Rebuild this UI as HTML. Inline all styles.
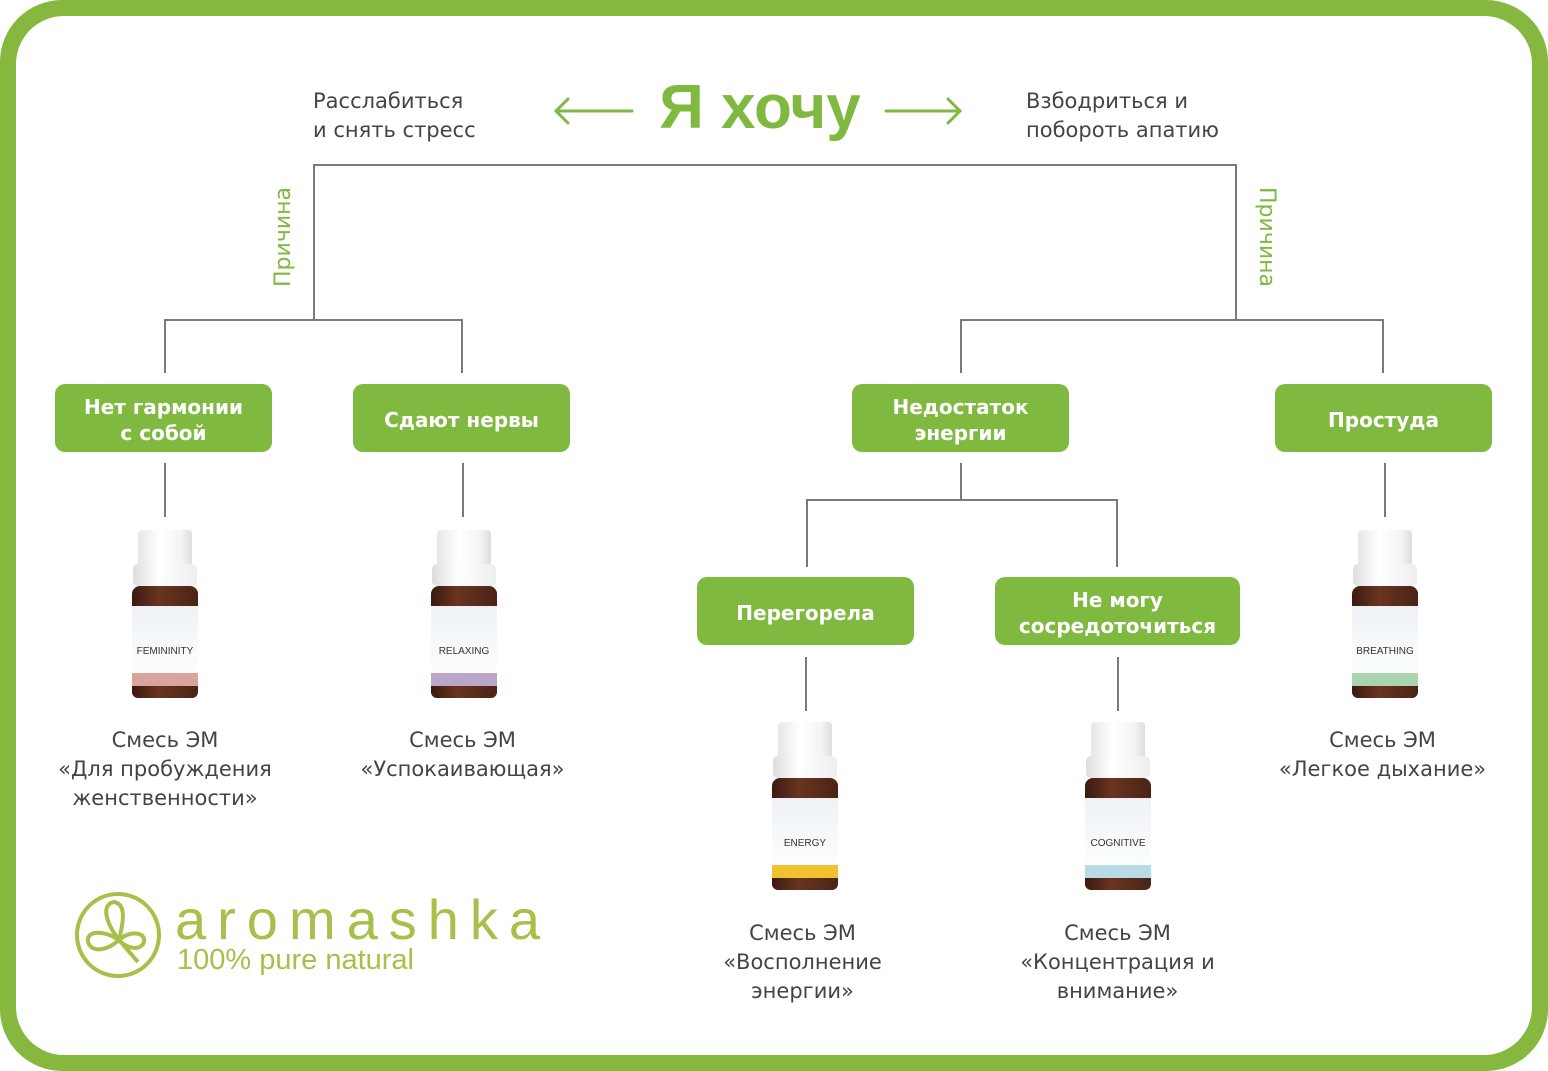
<!DOCTYPE html>
<html><head><meta charset="utf-8"><style>
*{margin:0;padding:0;box-sizing:border-box}
body{width:1548px;height:1071px;background:#fff;position:relative;overflow:hidden;font-family:"DejaVu Sans","Liberation Sans",sans-serif}
.frame{position:absolute;left:0;top:0;width:1548px;height:1071px;border-radius:62px;background:#86b73f}
.inner{position:absolute;left:16px;top:16px;width:1516px;height:1039px;border-radius:48px;background:#fff}
.l{position:absolute;background:#7a7a7a}
.box{position:absolute;background:#80b940;color:#fff;border-radius:10px;font-weight:bold;font-size:20px;line-height:26px;display:flex;align-items:center;justify-content:center;text-align:center;padding-top:3px}
.t{position:absolute;color:#444;font-size:21px;line-height:29px;text-align:center}
.b{position:absolute;width:70px;height:190px}
.cap{position:absolute;left:8px;top:0;width:54px;height:48px;background:linear-gradient(90deg,#e6e6e6,#fff 40%,#f4f4f4 80%,#ddd);border-radius:4px 4px 0 0}
.ring{position:absolute;left:3px;top:34px;width:64px;height:22px;background:linear-gradient(90deg,#ddd,#fff 40%,#eee);border-radius:5px}
.body{position:absolute;left:2px;top:56px;width:66px;height:112px;background:linear-gradient(90deg,#3a1a10,#6a3420 40%,#4a2416);border-radius:8px 8px 6px 6px}
.lab{position:absolute;left:2px;top:76px;width:66px;height:80px;background:linear-gradient(#eef2f6,#fff);font-family:"Liberation Sans",sans-serif;font-size:10px;color:#333;text-align:center;padding-top:40px;line-height:11px}
.band{position:absolute;left:0;bottom:0;width:100%;height:13px}
</style></head><body>
<div class="frame"></div><div class="inner"></div>

<div class="t" style="left:313px;top:87px;text-align:left">Расслабиться<br>и снять стресс</div>
<div class="t" style="left:1026px;top:87px;text-align:left">Взбодриться и<br>побороть апатию</div>
<div style="position:absolute;left:650px;top:68px;width:220px;text-align:center;font-family:'Liberation Sans',sans-serif;font-weight:bold;font-size:62px;color:#80b940;line-height:80px">Я хочу</div>
<svg style="position:absolute;left:550px;top:95px" width="420" height="32">
<g stroke="#80b940" stroke-width="3" fill="none" stroke-linecap="round">
<path d="M6 16H82M18 4L6 16L18 28"/><path d="M336 16H410M398 4L410 16L398 28"/></g></svg>

<div style="position:absolute;left:234px;top:224px;width:100px;height:26px;transform:rotate(-90deg);color:#80b940;font-size:22px;text-align:center">Причина</div>
<div style="position:absolute;left:1216px;top:224px;width:100px;height:26px;transform:rotate(90deg);color:#80b940;font-size:22px;text-align:center">Причина</div>

<div class="l" style="left:313px;top:164px;width:924px;height:2px"></div>
<div class="l" style="left:313px;top:164px;width:2px;height:157px"></div>
<div class="l" style="left:1235px;top:164px;width:2px;height:157px"></div>
<div class="l" style="left:164px;top:319px;width:299px;height:2px"></div>
<div class="l" style="left:164px;top:319px;width:2px;height:54px"></div>
<div class="l" style="left:461px;top:319px;width:2px;height:54px"></div>
<div class="l" style="left:960px;top:319px;width:424px;height:2px"></div>
<div class="l" style="left:960px;top:319px;width:2px;height:54px"></div>
<div class="l" style="left:1382px;top:319px;width:2px;height:54px"></div>
<div class="l" style="left:164px;top:463px;width:2px;height:54px"></div>
<div class="l" style="left:462px;top:463px;width:2px;height:54px"></div>
<div class="l" style="left:1384px;top:463px;width:2px;height:54px"></div>
<div class="l" style="left:960px;top:463px;width:2px;height:37px"></div>
<div class="l" style="left:806px;top:499px;width:312px;height:2px"></div>
<div class="l" style="left:806px;top:499px;width:2px;height:68px"></div>
<div class="l" style="left:1116px;top:499px;width:2px;height:68px"></div>
<div class="l" style="left:805px;top:657px;width:2px;height:54px"></div>
<div class="l" style="left:1117px;top:657px;width:2px;height:54px"></div>

<div class="box" style="left:55px;top:384px;width:217px;height:68px">Нет гармонии<br>с собой</div>
<div class="box" style="left:353px;top:384px;width:217px;height:68px">Сдают нервы</div>
<div class="box" style="left:852px;top:384px;width:217px;height:68px">Недостаток<br>энергии</div>
<div class="box" style="left:1275px;top:384px;width:217px;height:68px">Простуда</div>
<div class="box" style="left:697px;top:577px;width:217px;height:68px">Перегорела</div>
<div class="box" style="left:995px;top:577px;width:245px;height:68px">Не могу<br>сосредоточиться</div>

<div class="b" style="left:130px;top:530px"><div class="body"></div><div class="lab">FEMININITY<div class="band" style="background:#d9a39e"></div></div><div class="cap"></div><div class="ring"></div></div>
<div class="b" style="left:429px;top:530px"><div class="body"></div><div class="lab">RELAXING<div class="band" style="background:#b9a6c9"></div></div><div class="cap"></div><div class="ring"></div></div>
<div class="b" style="left:1350px;top:530px"><div class="body"></div><div class="lab">BREATHING<div class="band" style="background:#a8d4b0"></div></div><div class="cap"></div><div class="ring"></div></div>
<div class="b" style="left:770px;top:722px"><div class="body"></div><div class="lab">ENERGY<div class="band" style="background:#f2c12e"></div></div><div class="cap"></div><div class="ring"></div></div>
<div class="b" style="left:1083px;top:722px"><div class="body"></div><div class="lab">COGNITIVE<div class="band" style="background:#b9dbe6"></div></div><div class="cap"></div><div class="ring"></div></div>

<div class="t" style="left:20px;top:726px;width:290px">Смесь ЭМ<br>«Для пробуждения<br>женственности»</div>
<div class="t" style="left:320px;top:726px;width:285px">Смесь ЭМ<br>«Успокаивающая»</div>
<div class="t" style="left:1240px;top:726px;width:285px">Смесь ЭМ<br>«Легкое дыхание»</div>
<div class="t" style="left:660px;top:919px;width:285px">Смесь ЭМ<br>«Восполнение<br>энергии»</div>
<div class="t" style="left:975px;top:919px;width:285px">Смесь ЭМ<br>«Концентрация и<br>внимание»</div>

<svg style="position:absolute;left:74px;top:890px" width="92" height="92">
<g stroke="#a6c04a" stroke-width="4" fill="none"><circle cx="44" cy="45" r="41"/>
<path d="M45 50C30 30 28 14 40 12C52 14 50 30 45 50Z"/><path d="M45 50C30 40 12 40 14 52C18 64 34 60 45 50Z"/><path d="M45 50C56 40 72 42 70 52C66 62 52 58 45 50L64 72"/></g></svg>
<div style="position:absolute;left:175px;top:888px;font-family:'Liberation Sans',sans-serif;font-size:56px;color:#a6c04a;letter-spacing:11px;line-height:64px">aromashka</div>
<div style="position:absolute;left:177px;top:943px;font-family:'Liberation Sans',sans-serif;font-size:29px;color:#a6c04a;line-height:34px">100% pure natural</div>
</body></html>
